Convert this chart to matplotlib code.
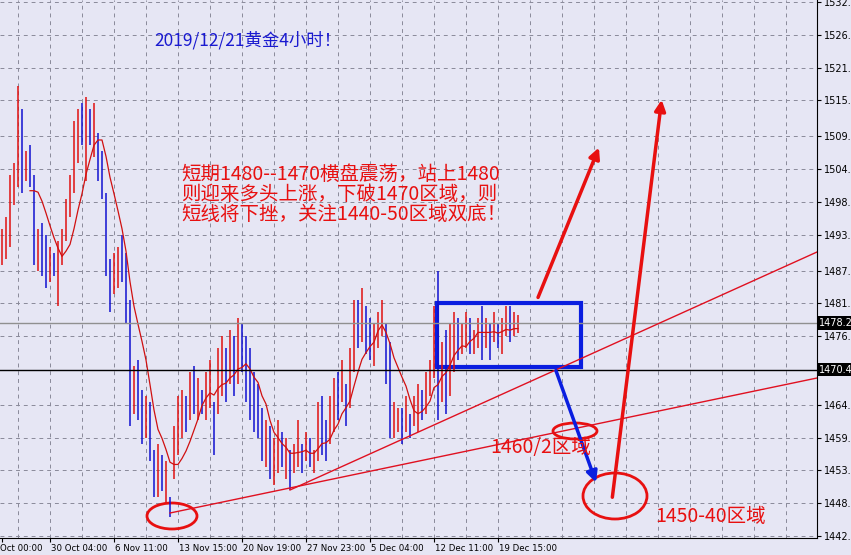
import matplotlib
matplotlib.use("Agg")
import matplotlib.pyplot as plt
import numpy as np
from matplotlib.patches import Ellipse, Rectangle

plt.rcParams['font.family'] = ['Noto Sans CJK SC', 'DejaVu Sans']

highs = [1494,1496,1503,1505,1518,1514,1507,1508,1503,1494,
         1495,1493,1491,1490,1492,1494,1499,1503,1512,1514,
         1515,1516,1514,1515,1510,1507,1500,1489,1490,1491,
         1493,1490,1482,1471,1472,1467,1466,1465,1457,1458,
         1456,1455,1449,1461,1466,1467,1466,1470,1471,1469,
         1467,1470,1472,1465,1474,1476,1474,1477,1476,1479,
         1478,1476,1474,1470,1468,1464,1462,1461,1459,1462,
         1460,1459,1457,1458,1462,1458,1460,1459,1457,1465,
         1466,1462,1466,1469,1470,1472,1468,1474,1482,1482,
         1484,1481,1479,1478,1480,1482,1478,1475,1465,1464,
         1464,1466,1463,1466,1468,1467,1470,1472,1481,1487,
         1475,1477,1478,1480,1479,1478,1480,1479,1477,1479,
         1481,1479,1478,1480,1478,1479,1481,1481,1480,1479.5]
lows = [1488,1489,1491,1498,1501,1500,1502,1501,1488,1487,
        1486,1484,1485,1486,1481,1488,1492,1496,1500,1505,
        1508,1502,1508,1506,1502,1499,1486,1480,1483,1484,
        1485,1478,1461,1463,1462,1458,1459,1455,1449,1449,
        1450,1448,1445.7,1452,1456,1459,1460,1462,1463,1462,
        1463,1462,1464,1456,1463,1466,1465,1468,1466,1468,
        1470,1465,1462,1460,1459,1455,1454,1452,1451,1453,
        1454,1452,1450.3,1453,1454,1453,1455,1454,1453,1455,
        1456,1455,1458,1460,1462,1465,1461,1464,1470,1474,
        1475,1473,1472,1471,1474,1476,1468,1459,1459,1460,
        1458,1460,1459,1461,1460,1462,1463,1466,1469,1462,
        1465,1463,1466,1470,1472,1473,1474,1473,1473,1474,
        1472,1474,1472,1475,1474,1473,1476,1475,1476,1476.5]
closes = [1490,1494,1501,1503,1505,1503,1504,1503,1490,1492,
          1489,1487,1488,1487,1490,1492,1497,1501,1510,1512,
          1510,1513,1510,1511,1504,1501,1488,1484,1488,1490,
          1486,1481,1463,1468,1464,1461,1463,1457,1452,1455,
          1451,1453,1447,1458,1463,1465,1462,1468,1466,1468,
          1465,1468,1470,1462,1471,1473,1468,1475,1469,1476,
          1472,1467,1464,1462,1461,1457,1458,1454,1456,1460,
          1456,1457,1453,1457,1459,1455,1458,1456,1456,1463,
          1460,1458,1464,1467,1466,1470,1464,1472,1480,1477,
          1481,1476,1474,1476,1479,1480,1470,1462,1462,1463,
          1461,1464,1461,1465,1466,1465,1468,1471,1479,1468,
          1472,1470,1476,1478,1475,1477,1478,1475,1476,1478,
          1476,1478,1475,1478,1476,1477,1479,1477,1478,1478.2]
ytick_vals = [1532.0,1526.5,1521.0,1515.5,1509.5,1504.0,1498.5,1493.0,1487.0,
              1481.5,1476.0,1464.5,1459.0,1453.5,1448.0,1442.5]
date_labels = ["Oct 00:00","30 Oct 04:00","6 Nov 11:00","13 Nov 15:00","20 Nov 19:00",
               "27 Nov 23:00","5 Dec 04:00","12 Dec 11:00","19 Dec 15:00"]
date_idx = [0,12,28,44,60,76,92,108,124]
last_price = 1478.2
level_line = 1470.4

W, H = 851, 555
fig = plt.figure(figsize=(W/100, H/100), dpi=100)
fig.patch.set_facecolor('#e6e6f4')
ax = fig.add_axes([0, 17/555, 817/851, 538/555])
ax.set_facecolor('#e6e6f4')
ymax = 1532.335; ymin = ymax - 538/5.967
ax.set_ylim(ymin, ymax)
ax.set_xlim(-0.5, -0.5 + 817/4)

def P(px, py):
    return (px - 2)/4, ymax - py/5.967

n = len(closes)
idx = np.arange(n)
opens = [closes[0]] + closes[:-1]
for i in range(n):
    c = '#e01010' if closes[i] >= opens[i] else '#1010d0'
    ax.vlines(i, lows[i], highs[i], color=c, lw=1.1)
ma = np.convolve(closes, np.ones(8)/8, mode='full')[:n]
ma[:7] = np.nan
ax.plot(idx, ma, color='#d01010', lw=0.9)

ax.axhline(last_price, color='#909090', lw=1)
ax.axhline(level_line, color='black', lw=1)

for v in ytick_vals:
    ax.axhline(v, color='#8a8a9a', lw=0.7, ls=(0, (4, 4)), zorder=0)
for gx in np.arange(4, 204, 8):
    ax.axvline(gx, color='#8a8a9a', lw=0.7, ls=(0, (4, 4)), zorder=0)

ax.yaxis.tick_right()
ax.set_yticks(ytick_vals)
ax.set_yticklabels([f"{v:.1f}" for v in ytick_vals], fontsize=7, family='DejaVu Sans')
ax.tick_params(axis='y', length=3, pad=2)
ax.set_xticks(date_idx)
ax.set_xticklabels([])
ax.tick_params(axis='x', length=3)
for i, lab in zip(date_idx, date_labels):
    ax.text(i + 0.2 if i else -0.4, ymin - 1.0, lab, fontsize=6.2, ha='left', va='top',
            family='DejaVu Sans', clip_on=False)
for sp in ['top', 'left']:
    ax.spines[sp].set_visible(False)

for v in [last_price, level_line]:
    ax.text(1.003, v, f"{v:.1f}", transform=ax.get_yaxis_transform(), fontsize=7,
            color='white', va='center', ha='left', family='DejaVu Sans',
            bbox=dict(facecolor='black', edgecolor='none', pad=1.2))

for (a, b) in [((170, 513), (817, 378)), ((290, 490), (817, 252))]:
    x0, y0 = P(*a); x1, y1 = P(*b)
    ax.plot([x0, x1], [y0, y1], color='#e01020', lw=1)

x0, y0 = P(437, 367); x1, y1 = P(581, 303)
ax.add_patch(Rectangle((x0, y0), x1 - x0, y1 - y0, fill=False, ec='#0a1ee0', lw=3))

def arrow(a, b, col):
    ax.annotate('', xy=P(*b), xytext=P(*a),
                arrowprops=dict(arrowstyle='-|>', color=col, lw=2.5, mutation_scale=16))
arrow((537, 300), (600, 145), '#e81010')
arrow((612, 500), (662, 97), '#e81010')
arrow((555, 368), (597, 485), '#0a1ee0')

for (cx, cy, w, h) in [(172, 516, 50, 26), (575, 431, 44, 16), (615, 496, 64, 46)]:
    xc, yc = P(cx, cy)
    ax.add_patch(Ellipse((xc, yc), w/4, h/5.967, fill=False, ec='#e81010', lw=2))

ax.text(*P(154, 40), "2019/12/21黄金4小时！", color='#1a1ad0', fontsize=12.5, va='center')
ax.text(*P(181, 164), "短期1480--1470横盘震荡，站上1480\n则迎来多头上涨，下破1470区域，则\n短线将下挫，关注1440-50区域双底！",
        color='#e81010', fontsize=14, va='top', linespacing=0.95)
ax.text(*P(490, 448), "1460/2区域", color='#e81010', fontsize=14, va='center')
ax.text(*P(655, 516), "1450-40区域", color='#e81010', fontsize=14, va='center')

fig.savefig('out.png', dpi=100, facecolor=fig.get_facecolor())
